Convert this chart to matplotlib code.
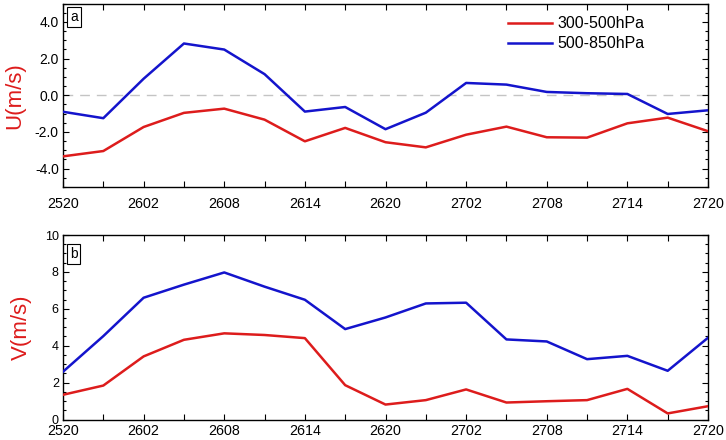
import matplotlib
matplotlib.use("Agg")
import matplotlib.pyplot as plt
from matplotlib.ticker import MultipleLocator

plt.rcParams['font.family'] = ['Liberation Sans', 'DejaVu Sans']

times = ['2520', '2523', '2602', '2605', '2608', '2611', '2614', '2617', '2620',
         '2623', '2702', '2705', '2708', '2711', '2714', '2717', '2720']
tick_labels = ['2520', '2602', '2608', '2614', '2620', '2702', '2708', '2714', '2720']

u_300_500 = [-3.33, -3.04, -1.73, -0.96, -0.73, -1.33, -2.51, -1.78, -2.56,
             -2.84, -2.15, -1.71, -2.29, -2.31, -1.53, -1.22, -1.96]
u_500_850 = [-0.90, -1.25, 0.90, 2.82, 2.49, 1.15, -0.89, -0.64, -1.85,
             -0.95, 0.67, 0.58, 0.18, 0.11, 0.07, -1.02, -0.82]
v_300_500 = [1.34, 1.84, 3.42, 4.32, 4.67, 4.58, 4.41, 1.86, 0.81,
             1.05, 1.63, 0.92, 0.99, 1.05, 1.66, 0.33, 0.72]
v_500_850 = [2.59, 4.52, 6.60, 7.31, 7.97, 7.20, 6.49, 4.90, 5.53,
             6.29, 6.33, 4.34, 4.23, 3.27, 3.45, 2.64, 4.43]

RED = '#dd1c1c'
BLUE = '#1414cc'

fig = plt.figure(figsize=(7.26, 4.4), dpi=100)
W, H = 726, 440
def axrect(l, t, r, b):
    return [l / W, 1 - b / H, (r - l) / W, (b - t) / H]

ax1 = fig.add_axes(axrect(63, 3.5, 708, 187))
ax2 = fig.add_axes(axrect(63, 235, 708, 419.5))

x = list(range(len(times)))
major_pos = [i for i, t in enumerate(times) if t in tick_labels]

for ax in (ax1, ax2):
    ax.set_xlim(0, len(times) - 1)
    ax.set_xticks(major_pos)
    ax.set_xticklabels(tick_labels, fontsize=10.3)
    ax.set_xticks([i for i in x if i not in major_pos], minor=True)
    ax.tick_params(axis='both', which='both', direction='in', top=True, right=True)
    ax.tick_params(axis='x', which='both', length=4.5, width=0.8, pad=7)
    ax.tick_params(axis='y', which='major', length=4, width=0.8, pad=3)
    ax.tick_params(axis='y', which='minor', length=2.5, width=0.8)
    for s in ax.spines.values():
        s.set_linewidth(1.0)

# Panel a
ax1.axhline(0, color='#c4c4c4', lw=1.0, dashes=(7, 5), zorder=1)
ax1.plot(x, u_300_500, color=RED, lw=1.8, label='300-500hPa', zorder=3)
ax1.plot(x, u_500_850, color=BLUE, lw=1.8, label='500-850hPa', zorder=3)
ax1.set_ylim(-5, 5)
ax1.set_yticks([-4, -2, 0, 2, 4])
ax1.set_yticklabels(['-4.0', '-2.0', '0.0', '2.0', '4.0'], fontsize=10)
ax1.yaxis.set_minor_locator(MultipleLocator(0.5))
ax1.set_ylabel('U(m/s)', color=RED, fontsize=16)
ax1.yaxis.set_label_coords(-0.059, 0.5)
ax1.text(0.011, 0.965, 'a', transform=ax1.transAxes, ha='left', va='top', fontsize=10,
         bbox=dict(boxstyle='square,pad=0.2', fc='white', ec='black', lw=0.8))
ax1.legend(loc='upper left', bbox_to_anchor=(0.69, 0.93), frameon=False, fontsize=11.5,
           handlelength=2.75, handletextpad=0.35, labelspacing=0.32, borderpad=0, borderaxespad=0)

# Panel b
ax2.plot(x, v_300_500, color=RED, lw=1.8, zorder=3)
ax2.plot(x, v_500_850, color=BLUE, lw=1.8, zorder=3)
ax2.set_ylim(0, 10)
ax2.set_yticks([0, 2, 4, 6, 8, 10])
ax2.set_yticklabels(['0', '2', '4', '6', '8', '10'], fontsize=9)
ax2.yaxis.set_minor_locator(MultipleLocator(0.5))
ax2.tick_params(axis='x', pad=3)
ax2.set_ylabel('V(m/s)', color=RED, fontsize=16)
ax2.yaxis.set_label_coords(-0.048, 0.5)
ax2.text(0.011, 0.935, 'b', transform=ax2.transAxes, ha='left', va='top', fontsize=10,
         bbox=dict(boxstyle='square,pad=0.2', fc='white', ec='black', lw=0.8))

fig.savefig('out.png', dpi=100)
